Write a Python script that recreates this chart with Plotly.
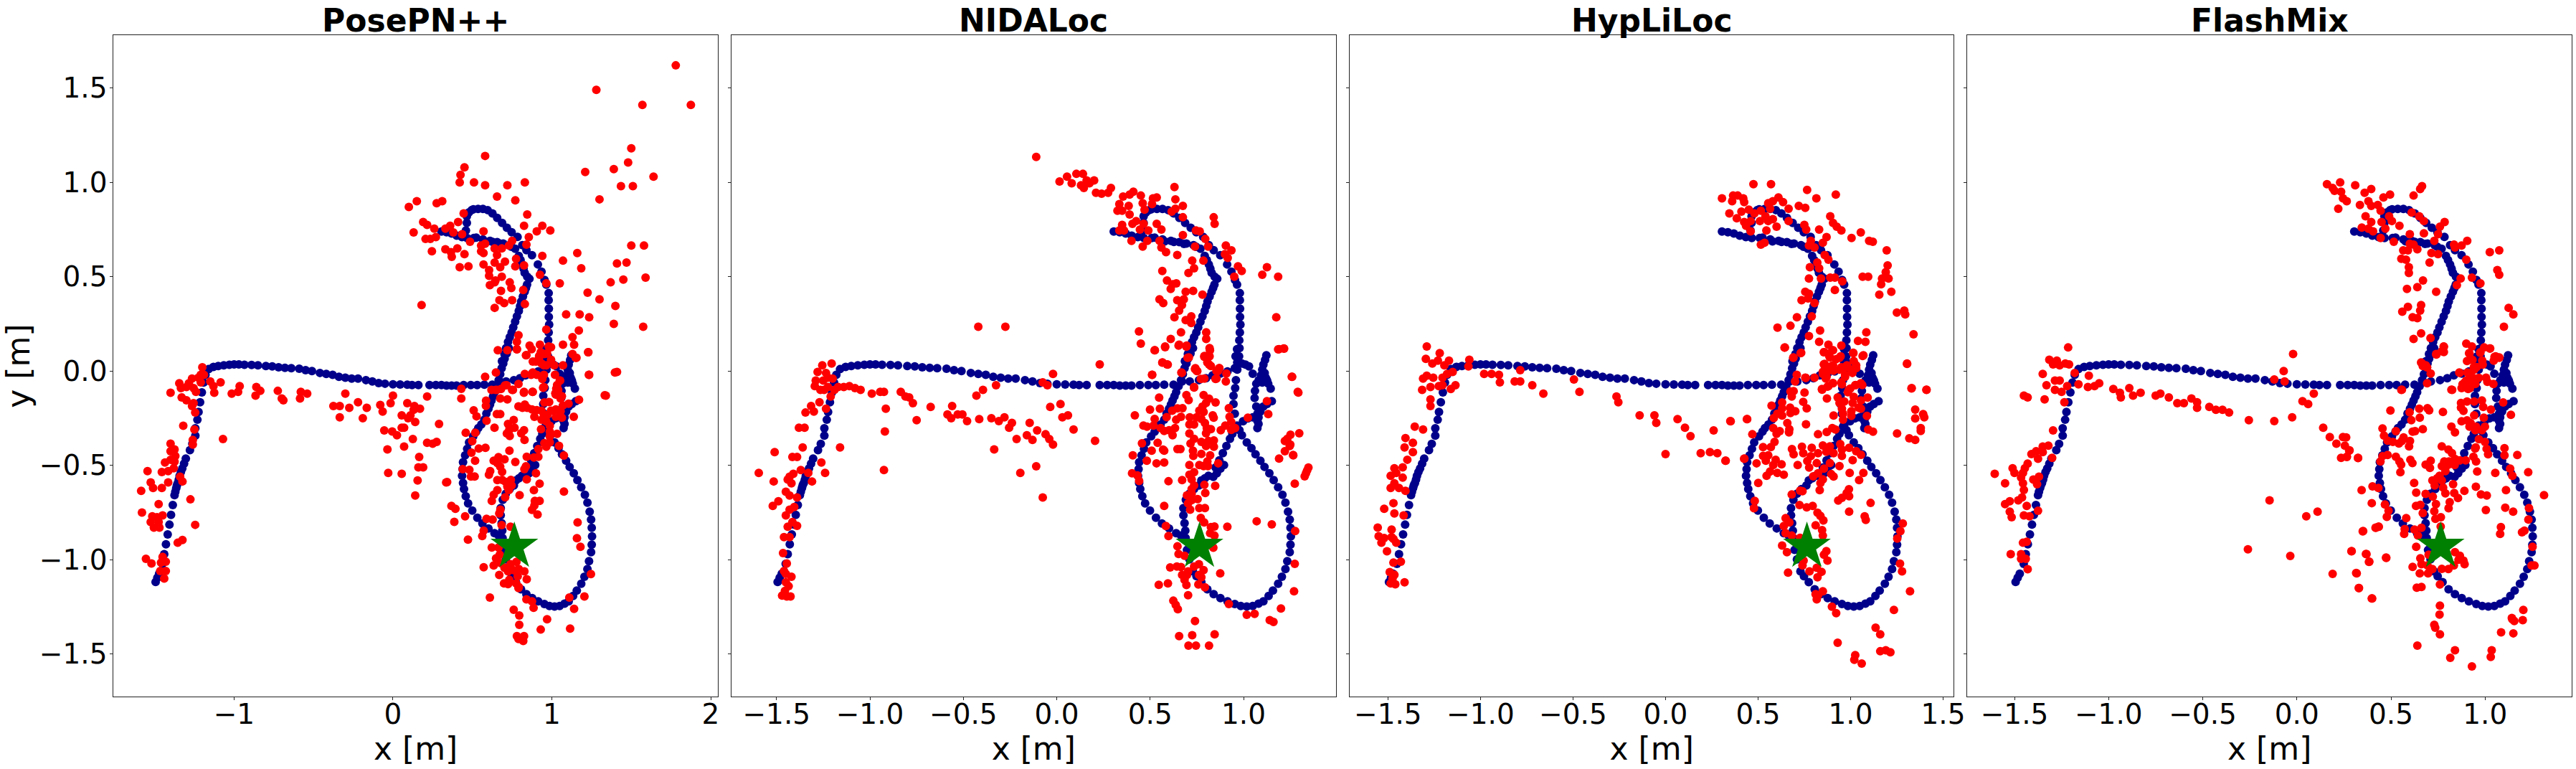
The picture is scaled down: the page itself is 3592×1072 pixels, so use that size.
import plotly.graph_objects as go

titles = ["PosePN++", "NIDALoc", "HypLiLoc", "FlashMix"]
star = (0.764, -0.93)

ground_truth = [
(-1.494,-1.118),(-1.483,-1.095),(-1.472,-1.074),(-1.451,-1.022),(-1.44,-0.97),(-1.429,-0.918),(-1.418,-0.866),(-1.407,-0.814),(-1.397,-0.762),(-1.386,-0.71),(-1.375,-0.658),(-1.37,-0.64),(-1.364,-0.62),(-1.36,-0.605),(-1.354,-0.593),(-1.348,-0.575),(-1.343,-0.555),(-1.335,-0.535),(-1.326,-0.516),(-1.315,-0.49),(-1.304,-0.464),(-1.278,-0.419),(-1.263,-0.386),(-1.244,-0.342),(-1.244,-0.303),(-1.231,-0.258),(-1.224,-0.217),(-1.214,-0.165),(-1.203,-0.113),(-1.192,-0.061),
(-1.18,-0.02),(-1.16,0.01),(-1.13,0.022),(-1.10,0.027),(-1.065,0.03),(-1.03,0.033),(-1.0,0.035),(-0.97,0.035),(-0.935,0.033),(-0.89,0.032),(-0.85,0.03),(-0.80,0.027),(-0.76,0.025),(-0.72,0.02),(-0.68,0.017),(-0.64,0.015),(-0.59,0.012),(-0.55,0.005),(-0.51,0.0),(-0.46,-0.01),(-0.42,-0.015),(-0.38,-0.02),(-0.34,-0.03),(-0.30,-0.035),(-0.26,-0.04),(-0.22,-0.04),(-0.17,-0.048),(-0.13,-0.055),(-0.09,-0.064),(-0.05,-0.067),(-0.0,-0.07),(0.045,-0.071),(0.09,-0.072),(0.12,-0.074),(0.16,-0.074),(0.23,-0.074),(0.27,-0.074),(0.305,-0.074),(0.337,-0.077),(0.369,-0.077),(0.40,-0.077),(0.445,-0.074),(0.49,-0.074),(0.53,-0.074),(0.575,-0.072),(0.625,-0.072),
(0.671,-0.055),(0.712,-0.055),(0.761,-0.048),(0.799,-0.038),(0.834,-0.023),(0.876,-0.013),(0.914,-0.002),(0.953,0.015),(0.966,0.046),(0.991,0.04),(1.01,0.034),(1.029,0.025),(1.049,-0.014),
(1.122,0.084),(1.115,0.059),(1.106,0.034),(1.1,0.008),(1.093,-0.023),(1.081,-0.048),(1.068,-0.067),(1.113,-0.01),(1.119,-0.036),(1.132,-0.067),(1.145,-0.093),(1.1,-0.061),(1.108,-0.02),(1.09,-0.05),(1.126,-0.05),
(1.061,-0.105),(1.059,-0.143),(1.068,-0.188),(1.074,-0.226),(1.074,-0.264),(1.074,-0.302),(1.087,-0.2),(1.106,-0.188),(1.125,-0.175),(1.151,-0.16),(1.08,-0.245),(1.08,-0.28),(1.09,-0.215),
(1.049,-0.245),(1.023,-0.251),(0.997,-0.266),(0.959,-0.295),(0.94,-0.333),(0.927,-0.359),(0.908,-0.397),(0.889,-0.435),(0.87,-0.473),(0.85,-0.511),(0.895,-0.498),(0.876,-0.517),(0.857,-0.542),(0.838,-0.561),(0.812,-0.555),(0.793,-0.568),(0.774,-0.58),(0.761,-0.606),(0.735,-0.625),(0.71,-0.65),(0.691,-0.682),(0.678,-0.726),(0.678,-0.764),(0.684,-0.806),(0.688,-0.846),
(0.978,0.122),(0.976,0.078),(0.966,0.008),(0.959,-0.048),(0.955,-0.09),(0.946,-0.131),(0.946,-0.175),(0.953,-0.226),(0.965,-0.289),(0.978,-0.314),(0.991,-0.34),(1.017,-0.378),(1.042,-0.409),(1.064,-0.441),(1.09,-0.475),(1.112,-0.508),(1.138,-0.542),(1.161,-0.578),(1.185,-0.616),(1.208,-0.656),(1.224,-0.698),(1.238,-0.745),(1.247,-0.787),(1.251,-0.831),(1.253,-0.876),(1.251,-0.92),(1.247,-0.96),(1.234,-1.007),(1.224,-1.049),(1.205,-1.09),(1.185,-1.127),(1.157,-1.163),(1.134,-1.192),(1.106,-1.22),(1.08,-1.233),(1.049,-1.245),(1.017,-1.248),(0.985,-1.245),(0.953,-1.235),(0.914,-1.22),(0.876,-1.203),(0.84,-1.182),(0.806,-1.157),(0.774,-1.119),(0.748,-1.087),(0.729,-1.062),(0.71,-0.998),(0.697,-0.948),(0.69,-0.885),(0.665,-0.872),(0.639,-0.859),(0.601,-0.834),(0.563,-0.808),(0.531,-0.777),(0.499,-0.739),(0.473,-0.701),(0.458,-0.663),(0.447,-0.625),(0.441,-0.593),(0.435,-0.555),(0.438,-0.52),(0.441,-0.483),(0.454,-0.447),(0.467,-0.412),(0.479,-0.378),(0.505,-0.346),(0.524,-0.321),(0.537,-0.302),(0.556,-0.283),(0.575,-0.258),(0.588,-0.225),(0.601,-0.2),(0.611,-0.178),(0.62,-0.156),(0.63,-0.134),(0.639,-0.112),(0.652,-0.08),(0.665,-0.048),(0.675,-0.017),(0.684,0.015),(0.694,0.04),(0.703,0.066),(0.716,0.093),(0.729,0.122),
(0.686,0.052),(0.702,0.09),(0.712,0.122),(0.724,0.154),(0.735,0.18),(0.747,0.204),(0.757,0.232),(0.769,0.261),(0.78,0.29),(0.792,0.318),(0.8,0.344),(0.807,0.369),(0.818,0.395),(0.829,0.42),(0.837,0.44),(0.844,0.458),(0.859,0.489),(0.845,0.5),(0.829,0.521),(0.822,0.543),(0.814,0.565),(0.803,0.588),(0.792,0.61),(0.769,0.648),(0.732,0.667),(0.694,0.676),(0.656,0.683),(0.611,0.69),(0.566,0.698),(0.524,0.707),(0.305,0.739),(0.337,0.736),(0.369,0.729),(0.401,0.718),(0.434,0.71),(0.466,0.705),(0.578,0.687),(0.627,0.684),(0.681,0.674),(0.746,0.659),
(0.98,0.375),(0.981,0.331),(0.981,0.287),(0.983,0.246),(0.98,0.204),(0.977,0.163),(0.965,0.116),(0.957,0.078),(0.98,0.413),(0.965,0.458),(0.954,0.483),(0.935,0.527),(0.912,0.565),(0.875,0.614),(0.84,0.641),(0.814,0.667),(0.784,0.711),(0.747,0.736),(0.717,0.759),(0.687,0.785),(0.656,0.812),(0.626,0.835),(0.596,0.853),(0.566,0.859),(0.536,0.859),(0.506,0.857),(0.477,0.84),(0.465,0.82),(0.465,0.785),(0.459,0.745),(0.495,0.853),(0.509,0.705),
]

posepn = [
(1.78,1.62),(1.875,1.41),(1.28,1.49),(1.57,1.41),(1.5,1.18),(1.48,1.105),(1.39,1.07),(1.64,1.03),(1.21,1.055),(1.435,0.98),(1.51,0.98),(1.3,0.91),(1.5,0.665),(1.58,0.665),(1.41,0.57),(1.47,0.575),(1.45,0.485),(1.37,0.47),(1.59,0.495),(1.225,0.415),(1.3,0.38),(1.4,0.345),(1.09,0.3),(1.175,0.3),(1.235,0.285),(1.39,0.25),(1.575,0.235),(1.17,0.215),(1.13,0.18),(1.14,0.14),(1.07,0.14),(1.23,0.1),(1.41,-0.005),(1.235,-0.02),(1.34,-0.13),(1.155,0.07),
(0.58,1.14),(0.45,1.08),(0.425,1.04),(0.42,1.0),(0.51,1.0),(0.58,0.985),(0.72,0.985),(0.83,1.0),(0.655,0.925),(0.77,0.905),(0.15,0.9),(0.1,0.87),(0.275,0.89),(0.31,0.9),(0.445,0.835),(0.845,0.83),(0.19,0.79),(0.215,0.775),(0.13,0.735),(0.205,0.7),(0.235,0.7),(0.27,0.71),(0.26,0.755),(0.33,0.755),(0.36,0.77),(0.41,0.79),(0.38,0.735),(0.435,0.725),(0.57,0.74),(0.825,0.77),(0.855,0.71),(0.905,0.74),(0.94,0.77),(0.99,0.745),(0.84,0.67),(0.245,0.635),(0.33,0.645),(0.365,0.63),(0.405,0.65),(0.45,0.62),(0.485,0.685),(0.37,0.605),(0.42,0.55),(0.475,0.555),(0.555,0.665),(0.58,0.675),(0.555,0.635),(0.57,0.625),(0.64,0.65),(0.685,0.65),(0.73,0.665),(0.75,0.69),(0.655,0.615),(0.57,0.565),(0.64,0.575),(0.705,0.58),(0.675,0.55),(0.775,0.595),(0.77,0.555),(0.825,0.56),(0.94,0.61),(1.07,0.585),(1.16,0.625),(1.185,0.545),(0.925,0.51),(0.965,0.465),(1.05,0.465),(0.605,0.535),(0.605,0.505),(0.61,0.455),(0.645,0.48),(0.685,0.5),(0.64,0.47),(0.68,0.425),(0.735,0.47),(0.745,0.44),(0.82,0.43),(0.67,0.375),(0.7,0.36),(0.75,0.375),(0.64,0.335),(0.83,0.355),(0.18,0.35),
(0.79,0.19),(0.78,0.155),(0.78,0.115),(0.84,0.085),(0.86,0.135),(0.925,0.14),(0.965,0.22),(0.98,0.13),(0.92,0.08),(0.9,0.05),(0.95,0.03),(0.995,0.06),(0.955,0.09),(1.015,0.03),(0.87,-0.02),(0.95,-0.02),(0.83,-0.015),(0.62,-0.1),(0.655,-0.1),(0.715,-0.075),(0.755,-0.1),(0.825,-0.11),(0.88,-0.11),(0.95,-0.085),(1.04,-0.1),(1.05,-0.05),(1.025,-0.125),(1.055,-0.145),
(-1.2,0.02),(-1.21,-0.02),(-1.265,-0.04),(-1.285,-0.065),(-1.345,-0.065),(-1.335,-0.09),(-1.3,-0.085),(-1.255,-0.09),(-1.21,-0.06),(-1.19,-0.02),(-1.225,-0.035),(-1.24,-0.11),(-1.4,-0.115),(-1.33,-0.14),(-1.3,-0.155),(-1.255,-0.17),(-1.265,-0.185),(-1.245,-0.22),(-1.32,-0.29),(-1.25,-0.31),(-1.26,-0.365),(-1.26,-0.39),(-1.15,-0.055),(-1.13,-0.08),(-1.085,-0.06),(-1.125,-0.115),(-1.015,-0.12),(-0.965,-0.08),(-0.975,-0.11),(-1.07,-0.36),(-0.86,-0.085),(-0.835,-0.105),(-0.865,-0.13),(-0.725,-0.105),(-0.7,-0.145),(-0.69,-0.155),(-0.58,-0.11),(-0.585,-0.145),(-0.54,-0.12),(-0.3,-0.12),(-0.375,-0.185),(-0.335,-0.185),(-0.275,-0.195),(-0.22,-0.165),(-0.335,-0.245),(-0.165,-0.195),(-0.19,-0.25),(0.0,-0.13),(-0.015,-0.17),(-0.08,-0.18),(-0.065,-0.215),(0.09,-0.17),(0.135,-0.185),(0.17,-0.2),(0.13,-0.205),(0.11,-0.235),(0.055,-0.235),(0.095,-0.25),(0.14,-0.27),(0.215,-0.135),(0.29,-0.28),(-0.055,-0.315),(-0.005,-0.32),(0.025,-0.34),(0.055,-0.3),(0.07,-0.3),(0.125,-0.36),(-0.035,-0.415),(0.07,-0.4),(0.165,-0.455),(0.215,-0.38),(0.25,-0.385),(0.275,-0.375),(0.16,-0.51),(0.19,-0.51),(-0.03,-0.54),(0.055,-0.545),(0.155,-0.58),(0.14,-0.66),(0.335,-0.59),
(-1.4,-0.385),(-1.375,-0.415),(-1.4,-0.425),(-1.37,-0.45),(-1.4,-0.47),(-1.435,-0.485),(-1.375,-0.48),(-1.38,-0.515),(-1.415,-0.53),(-1.455,-0.535),(-1.545,-0.53),(-1.34,-0.56),(-1.325,-0.585),(-1.415,-0.59),(-1.525,-0.59),(-1.51,-0.62),(-1.455,-0.62),(-1.585,-0.635),(-1.275,-0.68),(-1.475,-0.705),(-1.58,-0.75),(-1.45,-0.765),(-1.515,-0.77),(-1.485,-0.775),(-1.525,-0.8),(-1.475,-0.8),(-1.505,-0.83),(-1.47,-0.83),(-1.245,-0.815),(-1.325,-0.895),(-1.355,-0.91),(-1.555,-0.995),(-1.52,-1.02),(-1.45,-0.985),(-1.46,-1.015),(-1.43,-1.01),(-1.465,-1.06),(-1.43,-1.06),(-1.44,-1.1),
(0.66,0.11),(0.72,0.11),(0.78,0.116),(0.837,0.084),(0.873,0.116),(0.93,0.1),(0.97,0.093),(0.995,0.126),(1.13,0.09),(1.15,0.07),(1.228,0.1),(0.88,0.05),(0.92,0.07),(0.935,0.04),(0.965,0.03),(1.07,0.03),(1.233,-0.02),(1.397,-0.008),(1.333,-0.128),(0.58,-0.03),(0.648,-0.008),(0.88,-0.008),(0.905,-0.02),(0.94,-0.042),(1.02,-0.02),(0.43,-0.094),(0.43,-0.145),(0.646,-0.1),(0.68,-0.095),(0.705,-0.076),(0.75,-0.1),(0.79,-0.068),(0.824,-0.115),(0.878,-0.11),(0.945,-0.088),(1.052,-0.05),(1.033,-0.074),(1.028,-0.093),(1.022,-0.118),(1.045,-0.13),(1.063,-0.133),(0.586,-0.157),(0.585,-0.184),(0.675,-0.145),(0.72,-0.15),(0.953,-0.166),(0.983,-0.164),(1.171,-0.152),(0.508,-0.208),(0.526,-0.24),(0.79,-0.187),(0.83,-0.178),(0.815,-0.195),(0.845,-0.195),(0.875,-0.203),(0.905,-0.207),(0.935,-0.21),(0.995,-0.21),(1.025,-0.203),(1.07,-0.182),(1.105,-0.173),(1.055,-0.213),(0.89,-0.242),(0.95,-0.232),(0.972,-0.232),(0.935,-0.258),(0.965,-0.267),(1.025,-0.242),(1.063,-0.247),(1.138,-0.242),(0.654,-0.228),(0.675,-0.228),(0.589,-0.263),(0.76,-0.259),(0.724,-0.28),(0.765,-0.3),(0.639,-0.3),(0.987,-0.29),(0.932,-0.308),(0.732,-0.312),(0.825,-0.314),(0.987,-0.321),(1.033,-0.333),(0.807,-0.33),(0.717,-0.331),(0.735,-0.344),(0.518,-0.327),(0.458,-0.327),(0.499,-0.372),(0.828,-0.365),(0.987,-0.346),(0.987,-0.378),(0.953,-0.382),(0.965,-0.401),(1.045,-0.396),(0.915,-0.413),(0.54,-0.411),(0.582,-0.407),(0.733,-0.422),(0.494,-0.432),(1.076,-0.448),(0.842,-0.454),(0.887,-0.458),(0.915,-0.454),(0.664,-0.456),(0.634,-0.475),(0.517,-0.475),(0.702,-0.468),(0.77,-0.482),(0.657,-0.488),(0.675,-0.507),(0.837,-0.505),(0.827,-0.52),(0.687,-0.534),(0.612,-0.53),(0.604,-0.549),(0.439,-0.52),(0.481,-0.524),(0.491,-0.559),(0.514,-0.559),(0.9,-0.542),(0.842,-0.574),(0.341,-0.588),(0.657,-0.578),(0.687,-0.577),(0.742,-0.577),(0.709,-0.587),(0.747,-0.606),(0.72,-0.612),(0.923,-0.597),(0.887,-0.631),(0.729,-0.631),(0.657,-0.631),(1.076,-0.639),(0.797,-0.658),(0.634,-0.656),(0.706,-0.669),(0.622,-0.688),(0.893,-0.688),(0.923,-0.688),(0.89,-0.713),(0.875,-0.736),(0.91,-0.76),(0.368,-0.715),(0.393,-0.73),(0.454,-0.77),(0.386,-0.799),(0.676,-0.735),(0.669,-0.755),(0.589,-0.783),(0.627,-0.787),(0.684,-0.816),(0.74,-0.825),(1.162,-0.802),(0.571,-0.846),(0.562,-0.874),(0.472,-0.893),(1.158,-0.886),(1.18,-0.931),(0.622,-0.935),(0.664,-0.935),(0.672,-0.973),(0.649,-0.992),(0.634,-1.03),(0.571,-1.04),(0.679,-1.018),(0.702,-1.043),(0.74,-1.024),(0.777,-1.011),(0.792,-1.049),(0.762,-1.056),(0.827,-1.062),(0.669,-1.081),(0.724,-1.062),(0.785,-1.087),(0.842,-1.103),(0.732,-1.106),(0.699,-1.125),(0.724,-1.129),(0.792,-1.144),(1.246,-1.076),
(0.61,-1.2),(0.775,-1.125),(0.79,-1.15),(0.84,-1.21),(0.875,-1.22),(0.885,-1.255),(0.76,-1.265),(0.795,-1.295),(0.795,-1.345),(0.78,-1.405),(0.825,-1.405),(0.79,-1.42),(0.82,-1.43),(0.93,-1.37),(0.97,-1.315),(1.11,-1.2),(1.205,-1.195),(1.14,-1.26),(1.115,-1.365),
]

nidaloc = [
(-0.11,1.135),(0.015,1.005),(0.055,1.03),(0.08,0.995),(0.105,1.045),(0.14,1.045),(0.16,1.01),(0.13,0.985),(0.145,0.97),(0.175,0.995),(0.2,1.01),(0.21,0.945),(0.24,0.94),(0.275,0.945),(0.29,0.97),(0.63,0.975),(0.41,0.95),(0.39,0.935),(0.355,0.925),(0.45,0.93),(0.515,0.915),(0.535,0.92),(0.635,0.91),(0.335,0.885),(0.385,0.875),(0.46,0.89),(0.51,0.885),(0.675,0.875),(0.325,0.85),(0.35,0.85),(0.39,0.83),(0.47,0.855),(0.615,0.845),(0.635,0.86),(0.675,0.815),(0.84,0.815),(0.845,0.78),(0.425,0.795),(0.405,0.78),(0.35,0.775),(0.465,0.78),(0.535,0.78),(0.56,0.75),(0.335,0.745),(0.36,0.745),(0.445,0.75),(0.49,0.745),(0.675,0.72),(0.745,0.745),(0.765,0.74),(0.4,0.69),(0.485,0.69),(0.55,0.69),(0.46,0.66),(0.56,0.655),(0.585,0.63),(0.645,0.615),(0.74,0.66),(0.795,0.7),(0.81,0.66),(0.905,0.665),(0.935,0.64),(0.9,0.62),(0.915,0.6),(0.725,0.585),(0.785,0.585),(0.735,0.545),(0.705,0.52),(0.565,0.53),(0.97,0.555),(0.99,0.53),(1.125,0.55),(1.1,0.51),(1.185,0.5),(0.95,0.5),(0.59,0.48),(0.62,0.46),(0.64,0.465),(0.61,0.435),(0.73,0.425),(0.78,0.405),(0.69,0.42),(0.55,0.38),(0.57,0.36),(0.645,0.375),(0.68,0.38),(0.67,0.35),(0.655,0.32),(0.63,0.285),(0.72,0.29),(0.69,0.27),(0.72,0.255),(1.175,0.285),(0.44,0.21),(0.665,0.205),(0.8,0.205),(0.61,0.17),(0.8,0.17),(0.45,0.145),(0.655,0.14),(0.58,0.13),(0.525,0.11),(0.695,0.135),(1.185,0.115),(1.215,0.12),(0.805,0.08),(0.79,0.075),(0.7,0.07),(0.82,0.11),(0.565,0.045),(0.59,0.035),(0.815,0.035),(0.87,0.015),(0.74,0.01),(0.75,0.0),(0.855,0.0),(-0.42,0.235),(-0.275,0.235),(0.23,0.035),(-0.02,-0.015),(0.67,-0.01),(0.51,-0.02),(0.79,-0.04),(0.855,-0.04),(1.26,-0.03),(0.735,-0.085),(1.29,-0.11),
(-1.255,0.03),(-1.205,0.04),(-1.28,-0.005),(-1.235,-0.01),(-1.225,-0.035),(-1.29,-0.05),(-1.25,-0.05),(-1.2,-0.04),(-1.295,-0.08),(-1.265,-0.1),(-1.245,-0.1),(-1.225,-0.085),(-1.19,-0.1),(-1.17,-0.085),(-1.14,-0.085),(-1.11,-0.08),(-1.08,-0.09),(-1.05,-0.1),(-0.99,-0.12),(-0.945,-0.11),(-0.925,-0.11),(-0.835,-0.11),(-0.81,-0.135),(-0.79,-0.14),(-0.77,-0.17),(-1.27,-0.165),(-1.21,-0.135),(-1.235,-0.2),(-1.315,-0.185),(-1.3,-0.215),(-1.345,-0.22),(-0.915,-0.2),(-1.38,-0.3),(-1.35,-0.3),(-0.92,-0.32),(-0.75,-0.26),(-0.675,-0.19),(-0.56,-0.185),(-0.585,-0.23),(-0.565,-0.25),(-0.53,-0.23),(-0.505,-0.23),(-0.48,-0.265),(-0.43,-0.13),(-0.395,-0.1),(-0.415,-0.255),(-0.325,-0.075),(-0.075,-0.06),(-0.05,-0.075),(-0.35,-0.25),(-0.31,-0.265),(-0.28,-0.245),(-0.24,-0.275),(-0.255,-0.3),(-0.145,-0.275),(-0.105,-0.315),(-0.16,-0.34),(-0.13,-0.365),(-0.215,-0.36),(-0.06,-0.335),(-0.04,-0.36),(-0.02,-0.39),(-0.035,-0.19),(0.02,-0.175),(0.03,-0.245),(0.06,-0.235),(0.09,-0.31),(0.205,-0.37),(-0.335,-0.415),(-1.36,-0.405),(-1.16,-0.405),(-1.51,-0.43),(-1.415,-0.455),(-1.39,-0.455),(-1.26,-0.485),(-1.37,-0.525),(-1.33,-0.54),(-1.24,-0.54),(-1.41,-0.545),(-1.43,-0.56),(-1.595,-0.54),(-1.515,-0.585),(-1.44,-0.575),(-1.42,-0.595),(-1.31,-0.585),(-1.45,-0.64),(-1.43,-0.66),(-1.39,-0.67),(-1.49,-0.69),(-1.52,-0.715),(-1.43,-0.735),(-1.405,-0.72),(-1.45,-0.765),(-1.415,-0.8),(-1.44,-0.825),(-1.39,-0.82),(-1.46,-0.88),(-1.43,-0.88),(-1.465,-0.965),(-1.445,-1.02),(-1.46,-1.06),(-1.45,-1.075),(-1.42,-1.09),(-1.45,-1.12),(-1.435,-1.14),(-1.47,-1.19),(-1.445,-1.195),(-1.425,-1.195),(-1.455,-1.165),(-0.925,-0.525),(-0.11,-0.505),(-0.195,-0.54),(-0.075,-0.67),
(0.524,0.11),(0.58,0.126),(0.652,0.135),(0.694,0.129),(0.707,0.072),(0.566,0.046),(0.594,0.034),(0.511,-0.02),(0.667,-0.008),(0.742,0.015),(0.752,0.0),(0.771,-0.042),(0.85,-0.042),(0.87,0.015),(0.863,0.0),(0.908,-0.013),(0.905,-0.055),(0.818,0.122),(0.79,0.08),(0.818,0.078),(0.806,0.046),(0.825,0.027),(1.19,0.116),(1.217,0.119),(1.258,-0.03),(1.293,-0.114),(0.735,-0.087),(0.548,-0.141),(0.694,-0.127),(0.706,-0.154),(0.786,-0.127),(0.815,-0.146),(0.799,-0.169),(0.85,-0.166),(0.78,-0.188),(0.763,-0.21),(0.786,-0.217),(0.921,-0.197),(1.125,-0.16),(1.132,-0.228),(0.499,-0.204),(0.552,-0.2),(0.418,-0.235),(0.618,-0.21),(0.646,-0.198),(0.673,-0.197),(0.588,-0.244),(0.665,-0.242),(0.639,-0.258),(0.524,-0.254),(0.712,-0.245),(0.748,-0.245),(0.774,-0.254),(0.835,-0.235),(0.84,-0.247),(0.925,-0.242),(1.023,-0.247),(0.71,-0.283),(0.735,-0.283),(0.793,-0.276),(0.902,-0.289),(0.934,-0.27),(0.464,-0.289),(0.483,-0.295),(0.518,-0.289),(0.556,-0.302),(0.575,-0.317),(0.601,-0.314),(0.633,-0.302),(0.62,-0.34),(0.803,-0.302),(0.825,-0.308),(0.799,-0.33),(0.878,-0.314),(0.934,-0.312),(0.955,-0.302),(0.71,-0.331),(0.735,-0.359),(0.774,-0.375),(0.716,-0.384),(0.812,-0.371),(0.841,-0.368),(0.799,-0.397),(0.841,-0.401),(0.54,-0.38),(0.456,-0.383),(0.508,-0.422),(0.569,-0.416),(0.575,-0.422),(0.646,-0.413),(0.662,-0.413),(0.729,-0.422),(0.731,-0.45),(0.774,-0.439),(0.821,-0.447),(0.407,-0.447),(0.482,-0.475),(0.534,-0.489),(0.575,-0.485),(0.71,-0.498),(0.763,-0.498),(0.806,-0.479),(0.786,-0.504),(0.809,-0.504),(0.864,-0.489),(1.298,-0.33),(1.251,-0.337),(1.221,-0.371),(1.234,-0.359),(1.247,-0.397),(1.221,-0.425),(1.266,-0.447),(1.19,-0.464),(1.347,-0.511),(1.34,-0.527),(1.334,-0.542),(1.327,-0.558),(1.274,-0.597),(0.403,-0.542),(0.432,-0.553),(0.441,-0.583),(0.598,-0.584),(0.671,-0.578),(0.71,-0.549),(0.735,-0.536),(0.722,-0.574),(0.735,-0.606),(0.722,-0.625),(0.79,-0.603),(0.848,-0.608),(0.795,-0.646),(0.697,-0.659),(0.722,-0.65),(0.754,-0.679),(0.722,-0.684),(0.703,-0.701),(0.575,-0.715),(0.714,-0.735),(0.763,-0.726),(0.793,-0.726),(0.771,-0.778),(0.789,-0.802),(1.07,-0.796),(1.151,-0.813),(0.913,-0.825),(0.584,-0.821),(0.598,-0.874),(0.825,-0.827),(0.844,-0.824),(0.821,-0.859),(0.844,-0.872),(1.276,-0.848),(0.646,-0.929),(0.652,-0.969),(0.684,-0.979),(0.838,-0.936),(1.274,-1.022),(0.607,-1.041),(0.643,-1.036),(0.665,-1.039),(0.761,-1.024),(0.786,-1.055),(0.735,-1.036),(0.875,-1.072),(0.703,-1.062),(0.671,-1.081),(0.697,-1.081),(0.761,-1.081),(0.774,-1.093),(0.684,-1.106),(0.546,-1.133),(0.595,-1.125),(0.694,-1.134),(0.758,-1.131),(0.793,-1.146),(1.27,-1.167),(0.703,-1.188),(0.624,-1.217),(0.637,-1.239),(0.648,-1.262),(0.921,-1.235),(1.2,-1.258),(1.017,-1.292),(1.059,-1.287),(1.14,-1.32),(1.16,-1.33),(0.74,-1.325),(0.655,-1.405),(0.725,-1.4),(0.845,-1.395),(0.705,-1.455),(0.745,-1.455),(0.815,-1.455),(1.25,-0.39),(1.265,-0.445),
]

hypliloc = [
(0.475,0.99),(0.57,0.99),(0.765,0.96),(0.815,0.915),(0.92,0.935),(0.305,0.915),(0.365,0.93),(0.39,0.93),(0.36,0.9),(0.42,0.915),(0.425,0.895),(0.345,0.835),(0.385,0.81),(0.41,0.845),(0.45,0.855),(0.555,0.89),(0.58,0.9),(0.61,0.92),(0.635,0.895),(0.565,0.86),(0.665,0.86),(0.72,0.875),(0.755,0.865),(0.48,0.835),(0.515,0.85),(0.54,0.82),(0.425,0.79),(0.46,0.795),(0.51,0.795),(0.555,0.795),(0.58,0.805),(0.665,0.795),(0.435,0.77),(0.46,0.74),(0.545,0.745),(0.6,0.765),(0.89,0.82),(0.905,0.785),(0.925,0.765),(0.95,0.745),(0.75,0.775),(0.76,0.75),(0.83,0.75),(0.87,0.71),(1.005,0.705),(1.055,0.735),(1.1,0.69),(1.12,0.685),(0.515,0.67),(0.535,0.68),(0.785,0.69),(0.805,0.655),(0.85,0.68),(0.775,0.665),(1.195,0.64),(0.86,0.615),(0.88,0.59),(1.2,0.56),(0.78,0.55),(0.82,0.575),(0.83,0.545),(1.19,0.525),(1.065,0.5),(1.095,0.5),(1.17,0.49),(1.205,0.49),(0.775,0.49),(0.84,0.49),(0.89,0.495),(0.915,0.495),(0.955,0.475),(1.165,0.46),(0.755,0.42),(0.915,0.43),(1.22,0.42),(1.155,0.405),(0.775,0.41),(0.735,0.375),(0.77,0.385),(0.805,0.36),(1.25,0.31),(1.29,0.32),(1.295,0.3),(0.79,0.29),(0.71,0.285),(0.675,0.24),(0.605,0.23),(1.34,0.195),(0.835,0.215),(1.085,0.205),(0.775,0.185),(1.04,0.16),(1.08,0.155),(0.83,0.155),(0.88,0.14),(0.95,0.135),(0.645,0.125),(0.73,0.095),(0.855,0.1),(0.905,0.11),(0.885,0.08),(1.015,0.095),(1.065,0.08),(0.69,0.07),(0.94,0.07),(1.305,0.04),(0.855,0.035),(0.905,0.03),(0.95,0.02),(0.98,0.03),(1.03,0.03),(0.895,0.005),(0.85,-0.015),(1.01,-0.01),(0.97,-0.02),(0.755,-0.035),(0.7,-0.055),(0.805,-0.035),(0.87,-0.03),(0.905,-0.065),(0.95,-0.06),(0.845,-0.095),(0.88,-0.08),(1.025,-0.075),(1.055,-0.065),(0.99,-0.1),(1.41,-0.1),(1.33,-0.09),
(-1.29,0.13),(-1.295,0.065),(-1.22,0.095),(-1.17,0.055),(-1.26,0.04),(-1.23,0.055),(-1.195,0.03),(-1.06,0.06),(-1.065,0.025),(-1.15,-0.005),(-1.18,-0.015),(-1.205,-0.035),(-1.29,-0.025),(-1.31,-0.04),(-1.255,-0.035),(-1.205,-0.075),(-1.27,-0.085),(-1.315,-0.1),(-1.225,-0.08),(-1.16,-0.095),(-1.135,-0.075),(-1.27,-0.15),(-1.27,-0.185),(-0.98,-0.015),(-0.94,-0.015),(-0.9,-0.02),(-0.895,-0.06),(-0.785,0.005),(-0.815,-0.055),(-0.785,-0.055),(-0.72,-0.075),(-0.66,-0.12),(-0.495,-0.045),(-0.465,-0.11),(-0.265,-0.135),(-0.255,-0.165),(-0.14,-0.235),(-0.06,-0.235),(-0.05,-0.275),(0.065,-0.255),(0.105,-0.3),(0.135,-0.345),(0.26,-0.315),(0.35,-0.265),(0.44,-0.255),(0.0,-0.44),(0.19,-0.435),(0.24,-0.43),(0.28,-0.435),(0.325,-0.475),(0.425,-0.465),(-1.355,-0.295),(-1.31,-0.31),(-1.405,-0.355),(-1.365,-0.38),(-1.41,-0.405),(-1.365,-0.43),(-1.395,-0.47),(-1.465,-0.515),(-1.42,-0.51),(-1.485,-0.555),(-1.455,-0.54),(-1.42,-0.565),(-1.465,-0.595),(-1.485,-0.62),(-1.44,-0.62),(-1.405,-0.635),(-1.47,-0.7),(-1.52,-0.73),(-1.465,-0.755),(-1.415,-0.765),(-1.555,-0.83),(-1.48,-0.84),(-1.55,-0.875),(-1.52,-0.885),(-1.48,-0.88),(-1.535,-0.91),(-1.47,-0.89),(-1.455,-0.91),(-1.505,-0.955),(-1.47,-1.015),(-1.43,-1.01),(-1.49,-1.065),(-1.465,-1.08),(-1.485,-1.125),(-1.46,-1.13),(-1.41,-1.12),(-1.475,-1.1),
(0.643,0.124),(0.733,0.097),(0.691,0.072),(0.859,0.1),(0.901,0.11),(0.888,0.072),(0.921,0.063),(0.946,0.078),(1.014,0.097),(1.069,0.084),(1.017,0.053),(0.859,0.038),(0.897,0.027),(0.85,-0.004),(0.875,0.002),(0.908,0.002),(0.94,0.008),(0.972,0.021),(1.004,0.008),(1.03,0.015),(1.305,0.038),(0.709,-0.02),(0.758,-0.036),(0.866,-0.04),(0.97,-0.03),(0.904,-0.064),(0.953,-0.07),(0.875,-0.083),(0.846,-0.099),(0.998,-0.093),(1.027,-0.074),(1.063,-0.074),(0.985,-0.112),(1.329,-0.092),(1.41,-0.099),(0.692,-0.106),(0.675,-0.108),(0.682,-0.135),(0.751,-0.114),(0.744,-0.163),(0.763,-0.198),(0.872,-0.145),(0.93,-0.14),(1.017,-0.137),(1.092,-0.141),(0.94,-0.169),(0.966,-0.162),(1.011,-0.169),(1.056,-0.156),(0.63,-0.166),(0.573,-0.183),(0.63,-0.198),(0.673,-0.194),(0.701,-0.213),(0.675,-0.222),(0.604,-0.226),(0.63,-0.236),(0.585,-0.249),(0.953,-0.2),(1.043,-0.194),(1.056,-0.2),(1.004,-0.213),(0.908,-0.236),(0.959,-0.226),(1.004,-0.238),(1.088,-0.238),(0.959,-0.258),(0.352,-0.266),(0.441,-0.255),(1.349,-0.204),(1.392,-0.228),(1.398,-0.245),(1.349,-0.251),(1.379,-0.302),(1.379,-0.317),(0.658,-0.276),(0.759,-0.282),(0.582,-0.302),(0.669,-0.308),(0.667,-0.325),(0.617,-0.318),(0.6,-0.333),(0.469,-0.335),(0.824,-0.335),(0.871,-0.323),(0.901,-0.302),(0.918,-0.31),(1.095,-0.31),(1.121,-0.321),(1.251,-0.331),(1.317,-0.356),(1.349,-0.365),(0.589,-0.375),(0.569,-0.403),(0.527,-0.403),(0.683,-0.413),(0.737,-0.401),(0.79,-0.407),(0.85,-0.394),(0.888,-0.399),(0.944,-0.387),(0.992,-0.407),(1.03,-0.425),(1.056,-0.444),(0.953,-0.416),(0.953,-0.45),(0.908,-0.435),(0.869,-0.428),(0.824,-0.435),(0.744,-0.435),(0.692,-0.441),(0.785,-0.451),(0.766,-0.477),(0.527,-0.45),(0.555,-0.447),(0.542,-0.475),(0.426,-0.464),(0.324,-0.475),(0.595,-0.47),(0.582,-0.498),(0.627,-0.494),(0.492,-0.489),(0.714,-0.498),(0.776,-0.511),(0.817,-0.488),(0.888,-0.488),(0.94,-0.504),(1.011,-0.472),(0.856,-0.517),(0.565,-0.532),(0.604,-0.54),(0.639,-0.549),(0.546,-0.555),(0.824,-0.542),(0.798,-0.558),(0.895,-0.546),(0.908,-0.559),(0.995,-0.54),(1.069,-0.54),(1.046,-0.578),(0.501,-0.593),(0.85,-0.574),(0.837,-0.593),(0.833,-0.631),(0.727,-0.634),(0.74,-0.637),(0.682,-0.654),(0.991,-0.626),(0.979,-0.646),(0.992,-0.663),(0.953,-0.672),(0.933,-0.686),(1.108,-0.699),(0.724,-0.71),(0.763,-0.722),(0.795,-0.715),(0.482,-0.688),(0.478,-0.727),(0.992,-0.745),(1.076,-0.77),(1.082,-0.789),(0.821,-0.751),(0.837,-0.768),(0.853,-0.792),(0.649,-0.779),(0.669,-0.802),(0.639,-0.821),(0.811,-0.817),(0.846,-0.843),(0.85,-0.872),(0.649,-0.859),(0.682,-0.872),(0.727,-0.884),(1.282,-0.808),(1.269,-0.849),(1.252,-0.888),(0.63,-0.925),(0.656,-0.96),(0.869,-0.954),(0.856,-0.973),(0.875,-1.005),(0.746,-1.005),(0.74,-1.03),(0.778,-1.062),(0.817,-1.043),(0.843,-1.064),(0.821,-1.093),(0.662,-1.068),(1.267,-1.021),(1.278,-1.062),(0.85,-1.167),(0.811,-1.182),(0.824,-1.188),(0.817,-1.21),(1.321,-1.167),(0.899,-1.249),(0.922,-1.283),(1.234,-1.266),(1.135,-1.36),(1.16,-1.395),(1.16,-1.485),(1.19,-1.48),(1.215,-1.49),(0.93,-1.44),(1.025,-1.505),(1.02,-1.53),(1.06,-1.55),
]

flashmix = [
(0.16,0.99),(0.23,1.0),(0.19,0.97),(0.31,0.985),(0.2,0.955),(0.235,0.95),(0.395,0.965),(0.665,0.98),(0.655,0.965),(0.36,0.945),(0.245,0.915),(0.265,0.9),(0.495,0.935),(0.46,0.92),(0.62,0.93),(0.38,0.9),(0.335,0.88),(0.22,0.86),(0.43,0.88),(0.395,0.875),(0.445,0.85),(0.365,0.82),(0.49,0.82),(0.61,0.84),(0.65,0.82),(0.395,0.79),(0.45,0.79),(0.505,0.795),(0.675,0.795),(0.545,0.77),(0.785,0.79),(0.345,0.76),(0.38,0.755),(0.47,0.755),(0.405,0.74),(0.6,0.725),(0.675,0.73),(0.76,0.765),(0.75,0.725),(0.445,0.705),(0.515,0.685),(0.6,0.675),(0.565,0.64),(0.62,0.67),(0.73,0.69),(0.835,0.67),(0.875,0.665),(0.905,0.69),(0.84,0.655),(0.59,0.64),(0.64,0.645),(0.715,0.625),(0.75,0.62),(1.025,0.63),(1.075,0.64),(0.555,0.595),(0.9,0.59),(0.58,0.59),(0.705,0.575),(0.595,0.55),(0.595,0.52),(1.065,0.535),(1.075,0.51),(0.67,0.48),(0.87,0.49),(0.93,0.495),(0.975,0.465),(0.585,0.435),(0.64,0.445),(0.85,0.455),(0.74,0.42),(0.66,0.35),(0.59,0.34),(1.125,0.335),(0.56,0.315),(0.655,0.32),(1.15,0.3),(0.615,0.285),(0.64,0.28),(1.1,0.235),(0.62,0.17),(0.66,0.2),(0.71,0.175),(0.9,0.145),(0.93,0.13),(0.995,0.125),(1.025,0.12),(0.78,0.13),(0.77,0.105),(0.915,0.095),(0.975,0.1),(0.74,0.09),(-1.215,0.125),(-0.02,0.09),(0.92,0.06),(0.985,0.055),(1.05,0.075),(1.075,0.07),(0.665,0.04),(0.685,0.03),(0.94,0.02),(0.985,0.035),(0.865,-0.01),(0.91,-0.01),(0.95,-0.04),(1.005,-0.035),(0.9,-0.05),(0.88,-0.07),(0.92,-0.09),(0.825,-0.1),(0.555,-0.1),(-0.07,0.0),(-0.065,-0.055),(-0.12,-0.045),
(-1.315,0.06),(-1.295,0.035),(-1.275,0.055),(-1.26,0.03),(-1.23,0.04),(-1.21,0.035),(-1.35,-0.015),(-1.285,-0.05),(-1.26,-0.05),(-1.18,-0.01),(-1.105,-0.025),(-1.33,-0.075),(-1.285,-0.1),(-1.25,-0.11),(-1.22,-0.08),(-1.16,-0.07),(-1.11,-0.085),(-1.075,-0.08),(-1.05,-0.065),(-0.975,-0.095),(-0.94,-0.115),(-0.935,-0.14),(-0.89,-0.09),(-0.87,-0.13),(-0.83,-0.115),(-0.75,-0.13),(-0.725,-0.12),(-0.68,-0.14),(-0.635,-0.17),(-0.6,-0.17),(-0.56,-0.145),(-0.53,-0.165),(-0.53,-0.195),(-0.465,-0.19),(-0.43,-0.205),(-0.395,-0.205),(-0.36,-0.22),(-0.255,-0.26),(-0.12,-0.265),(-0.025,-0.245),(0.03,-0.16),(0.06,-0.175),(0.09,-0.12),(-1.45,-0.13),(-1.43,-0.14),(-1.34,-0.15),(-1.235,-0.165),(0.14,-0.3),(0.175,-0.35),(0.21,-0.385),(0.245,-0.35),(0.255,-0.395),(0.28,-0.42),(0.235,-0.46),(0.265,-0.455),(0.325,-0.46),(-1.295,-0.315),(-1.35,-0.4),(-1.32,-0.395),(-1.41,-0.44),(-1.385,-0.425),(-1.35,-0.43),(-1.375,-0.465),(-1.3,-0.46),(-1.51,-0.515),(-1.445,-0.515),(-1.43,-0.49),(-1.605,-0.545),(-1.5,-0.54),(-1.455,-0.54),(-1.465,-0.565),(-1.55,-0.595),(-1.455,-0.595),(-1.4,-0.575),(-1.37,-0.56),(-1.38,-0.6),(-1.45,-0.63),(-1.46,-0.67),(-1.48,-0.685),(-1.525,-0.69),(-1.55,-0.705),(-1.435,-0.715),(-1.525,-0.745),(-1.375,-0.74),(-1.515,-0.775),(-1.45,-0.765),(-1.42,-0.77),(-1.455,-0.91),(-1.435,-0.905),(-1.52,-0.97),(-1.465,-0.97),(-1.465,-0.995),(-1.44,-0.995),(-1.43,-1.05),
(-0.145,-0.685),(0.05,-0.77),(0.11,-0.745),(-0.26,-0.945),(-0.035,-0.98),(0.19,-1.075),(0.29,-0.955),(0.315,-1.07),(0.37,-0.97),(0.385,-1.01),(0.475,-0.99),(0.33,-1.15),(0.4,-1.205),(0.35,-0.85),(0.42,-0.83),(0.435,-0.825),
(0.741,0.087),(0.781,0.129),(0.781,0.101),(0.917,0.093),(0.904,0.053),(0.933,0.059),(0.974,0.097),(1.027,0.12),(1.056,0.078),(1.075,0.072),(1.046,0.055),(0.987,0.034),(0.955,0.021),(0.942,0.008),(0.66,0.046),(0.669,0.027),(0.692,0.019),(0.711,-0.013),(0.692,-0.065),(0.558,-0.099),(0.821,-0.099),(0.863,-0.008),(0.906,-0.008),(0.929,-0.03),(0.967,-0.036),(0.891,-0.061),(0.923,-0.055),(0.948,-0.068),(1.012,-0.057),(1.044,-0.068),(0.875,-0.09),(0.91,-0.095),(0.497,-0.209),(0.65,-0.2),(0.694,-0.197),(0.703,-0.208),(0.776,-0.217),(0.599,-0.219),(0.653,-0.247),(0.608,-0.26),(0.872,-0.169),(0.904,-0.162),(0.942,-0.162),(0.983,-0.156),(0.872,-0.194),(0.885,-0.211),(0.99,-0.19),(1.031,-0.204),(1.096,-0.166),(1.137,-0.232),(0.942,-0.235),(0.993,-0.247),(0.875,-0.266),(0.904,-0.261),(0.923,-0.276),(0.917,-0.295),(0.952,-0.295),(0.999,-0.295),(0.821,-0.295),(0.84,-0.325),(0.455,-0.304),(0.526,-0.318),(0.463,-0.342),(0.615,-0.321),(0.628,-0.318),(0.669,-0.308),(0.948,-0.314),(0.983,-0.314),(0.967,-0.361),(0.999,-0.375),(0.482,-0.369),(0.51,-0.375),(0.542,-0.384),(0.567,-0.352),(0.558,-0.371),(0.601,-0.371),(0.596,-0.399),(0.77,-0.399),(1.008,-0.412),(1.103,-0.409),(0.805,-0.416),(0.947,-0.411),(0.824,-0.435),(1.016,-0.441),(1.103,-0.447),(1.171,-0.445),(0.262,-0.352),(0.278,-0.422),(0.266,-0.454),(0.325,-0.461),(0.455,-0.451),(0.482,-0.445),(0.444,-0.479),(0.526,-0.454),(0.545,-0.479),(0.554,-0.496),(0.603,-0.47),(0.614,-0.488),(0.684,-0.496),(0.711,-0.475),(0.707,-0.513),(0.55,-0.536),(0.783,-0.479),(0.808,-0.479),(0.84,-0.466),(0.866,-0.473),(0.897,-0.473),(0.938,-0.454),(0.952,-0.479),(0.77,-0.504),(0.802,-0.498),(0.838,-0.498),(0.789,-0.53),(0.958,-0.532),(1.054,-0.54),(1.133,-0.517),(1.145,-0.555),(1.229,-0.536),(0.758,-0.555),(0.77,-0.58),(0.72,-0.58),(0.732,-0.606),(0.745,-0.568),(0.83,-0.6),(0.777,-0.618),(0.623,-0.593),(0.402,-0.611),(0.433,-0.62),(0.344,-0.631),(0.634,-0.644),(0.684,-0.651),(0.722,-0.665),(0.789,-0.648),(0.836,-0.646),(0.856,-0.673),(0.89,-0.635),(0.951,-0.613),(0.978,-0.654),(1.009,-0.66),(1.111,-0.631),(1.313,-0.658),(0.398,-0.7),(0.468,-0.707),(0.487,-0.74),(0.478,-0.773),(0.633,-0.715),(0.656,-0.709),(0.669,-0.753),(0.739,-0.705),(0.73,-0.743),(0.812,-0.695),(0.806,-0.727),(1.004,-0.737),(1.107,-0.724),(1.149,-0.745),(1.233,-0.726),(1.23,-0.787),(0.736,-0.783),(0.765,-0.775),(0.581,-0.779),(1.084,-0.827),(1.08,-0.863),(1.196,-0.854),(1.209,-0.846),(0.418,-0.831),(0.434,-0.825),(0.352,-0.848),(0.573,-0.837),(0.57,-0.863),(0.625,-0.84),(0.662,-0.831),(0.643,-0.872),(0.764,-0.824),(1.252,-0.931),(0.634,-0.931),(0.291,-0.954),(0.367,-0.969),(0.383,-1.011),(0.474,-0.988),(0.656,-0.992),(0.7,-0.973),(0.84,-0.96),(0.866,-0.979),(0.885,-1.005),(0.891,-1.024),(0.859,-1.0),(0.662,-1.024),(0.615,-1.038),(0.694,-1.03),(0.72,-1.049),(0.77,-1.048),(0.805,-1.049),(0.834,-1.03),(0.653,-1.072),(0.697,-1.072),(1.247,-1.03),(1.262,-1.03),(0.318,-1.072),(0.76,-1.131),(0.329,-1.15),(0.637,-1.148),(0.662,-1.144),(0.398,-1.205),(0.76,-1.243),(0.758,-1.291),(1.203,-1.266),(1.142,-1.309),(0.73,-1.345),(0.735,-1.36),(0.76,-1.395),(0.64,-1.455),(0.84,-1.48),(0.815,-1.52),(0.93,-1.565),(1.035,-1.48),(1.03,-1.515),(1.145,-1.315),(1.155,-1.325),(1.2,-1.32),(1.085,-1.385),(1.15,-1.39),(0.95,-0.405),
]

predictions = [posepn, nidaloc, hypliloc, flashmix]
x_ranges = [(-1.759, 2.045), (-1.741, 1.493), (-1.705, 1.556), (-1.75, 1.46)]
y_range = (-1.725, 1.779)
x_dticks = [1, 0.5, 0.5, 0.5]
x_formats = ["d", ".1f", ".1f", ".1f"]

W, H = 3592, 1072
panel_px = [(158.3, 1001), (1020, 1862.5), (1882.4, 2724), (2743.4, 3586)]
top_px, bottom_px = 49.3, 971
FONT = "DejaVu Sans"
AXIS = "#222222"

fig = go.Figure()
for i, (title, pred) in enumerate(zip(titles, predictions)):
    n = "" if i == 0 else str(i + 1)
    xa, ya = "x" + n, "y" + n
    fig.add_trace(go.Scatter(x=[p[0] for p in ground_truth], y=[p[1] for p in ground_truth],
                             mode="markers", xaxis=xa, yaxis=ya, showlegend=False,
                             marker=dict(color="#00008b", size=12, line_width=0)))
    fig.add_trace(go.Scatter(x=[p[0] for p in pred], y=[p[1] for p in pred],
                             mode="markers", xaxis=xa, yaxis=ya, showlegend=False,
                             marker=dict(color="#ff0000", size=12, line_width=0)))
    fig.add_trace(go.Scatter(x=[star[0]], y=[star[1]], mode="markers", xaxis=xa, yaxis=ya,
                             showlegend=False,
                             marker=dict(color="#008000", size=50, symbol="star", line_width=0)))
    l, r = panel_px[i]
    fig.update_layout({
        "xaxis" + n: dict(
            domain=[l / W, r / W], range=list(x_ranges[i]), anchor=ya, automargin=False,
            dtick=x_dticks[i], tick0=0, tickformat=x_formats[i],
            showgrid=False, zeroline=False, showline=True, mirror=True, linecolor=AXIS, linewidth=1,
            ticks="outside", ticklen=4, tickcolor=AXIS, tickwidth=1, ticklabelstandoff=-14,
            tickfont=dict(family=FONT, size=39, color="black"),
            title=dict(text="x [m]", font=dict(family=FONT, size=44, color="black"), standoff=10),
        ),
        "yaxis" + n: dict(
            domain=[1 - bottom_px / H, 1 - top_px / H], range=list(y_range), anchor=xa, automargin=False,
            dtick=0.5, tick0=0, tickformat=".1f",
            showgrid=False, zeroline=False, showline=True, mirror=True, linecolor=AXIS, linewidth=1,
            ticks="outside", ticklen=4, tickcolor=AXIS, tickwidth=1, ticklabelstandoff=-4,
            showticklabels=(i == 0),
            tickfont=dict(family=FONT, size=39, color="black"),
            title=dict(text="y [m]" if i == 0 else "", font=dict(family=FONT, size=44, color="black"), standoff=36),
        ),
    })
    fig.add_annotation(text="<b>%s</b>" % title, xref="paper", yref="paper",
                       x=(l + r) / 2 / W, y=1 - 28 / H, xanchor="center", yanchor="middle",
                       showarrow=False, font=dict(family=FONT, size=44, color="black"))

fig.update_layout(width=W, height=H, margin=dict(l=0, r=0, t=0, b=0),
                  paper_bgcolor="white", plot_bgcolor="white", showlegend=False)
# The browser's default 8 px body margin would push the figure off the page.
fig.write_html("out.html", config={"displayModeBar": False},
               post_script="document.body.style.margin='0';")
